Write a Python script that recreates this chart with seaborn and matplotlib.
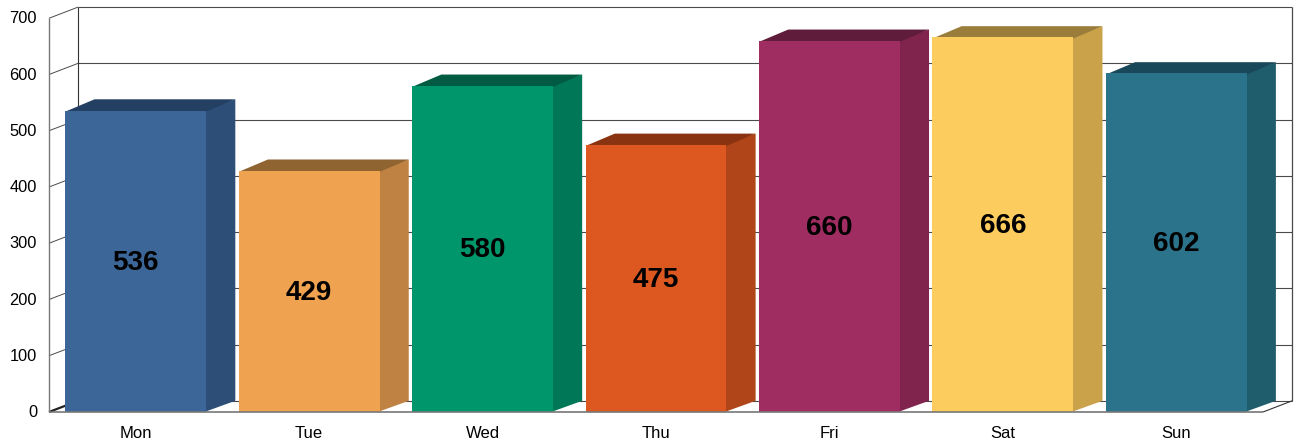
import matplotlib
matplotlib.use("Agg")
import matplotlib.pyplot as plt
import seaborn as sns
import pandas as pd
from matplotlib.patches import Polygon
from matplotlib.transforms import ScaledTranslation

days = ["Mon", "Tue", "Wed", "Thu", "Fri", "Sat", "Sun"]
values = [536, 429, 580, 475, 660, 666, 602]
front_colors = ["#3B6697", "#EFA351", "#00966C", "#DD5820", "#A02D61", "#FDCC5E", "#2A738A"]
side_colors = ["#2D4F77", "#BF8242", "#007857", "#AF4518", "#80244E", "#C9A24A", "#1F5C6C"]
top_colors = ["#234062", "#8F6431", "#005B42", "#8A3310", "#601C3B", "#9A7D3B", "#19485A"]
y_ticks = [0, 100, 200, 300, 400, 500, 600, 700]

W, H = 1296, 448
sns.set_theme(style="white")
plt.rcParams["font.family"] = ["Liberation Sans", "DejaVu Sans"]

fig = plt.figure(figsize=(W / 100, H / 100), dpi=100, facecolor="white")
# axes box in pixels: front-left of the floor to back-right of the wall
left, right, top, bottom = 49, 1293, 6, 412
ax = fig.add_axes([left / W, 1 - bottom / H, (right - left) / W, (bottom - top) / H])

px_per_cat = (1263 - 49) / 7
px_per_unit = 0.5625
dx = 29.2 / px_per_cat      # depth of the 3D effect, x
dy = 11.2 / px_per_unit     # depth of the 3D effect, y

df = pd.DataFrame({"day": days, "value": values})
sns.barplot(data=df, x="day", y="value", hue="day", palette=front_colors, order=days,
            hue_order=days, dodge=False, width=140.8 / px_per_cat, saturation=1,
            legend=False, linewidth=0, ax=ax, zorder=4)

x0, x1 = -0.5, 6.5
ax.set_xlim(x0, x1 + 30 / px_per_cat)
ax.set_ylim(0, (bottom - top) / px_per_unit)
for s in ax.spines.values():
    s.set_visible(False)

grid = "#4A4A4A"
kw = dict(clip_on=False, solid_capstyle="butt", zorder=1)
# back wall and side wall rules
for t in y_ticks:
    ax.plot([x0 + dx, x1 + dx], [t + dy, t + dy], color=grid, lw=0.8, **kw)
    ax.plot([x0, x0 + dx], [t, t + dy], color="#222222" if t == 0 else grid, lw=1.6 if t == 0 else 0.7, **kw)
ax.plot([x0 + dx, x0 + dx], [dy, 700 + dy], color="#333333", lw=0.8, **kw)
ax.plot([x1 + dx, x1 + dx], [dy, 700 + dy], color=grid, lw=0.9, **kw)
ax.plot([x1, x1 + dx], [0, dy], color="#333333", lw=0.8, **kw)
ax.plot([x0, x0], [0, 700], color="#777777", lw=1.0, **kw)
ax.plot([x0, x1], [0, 0], color="#777777", lw=1.2, clip_on=False, solid_capstyle="butt", zorder=6)

# 3D side and top faces derived from each bar drawn by seaborn
seam = 0.01
for bar, side, roof, val in zip(ax.patches, side_colors, top_colors, values):
    xa, xb, h = bar.get_x(), bar.get_x() + bar.get_width(), bar.get_height()
    ax.add_patch(Polygon([(xb - seam, 0), (xb + dx, dy), (xb + dx, h + dy), (xb - seam, h)],
                         facecolor=side, edgecolor="none", zorder=3, clip_on=False))
    ax.add_patch(Polygon([(xa, h - 2), (xa + dx, h + dy), (xb + dx, h + dy), (xb, h - 2)],
                         facecolor=roof, edgecolor="none", zorder=3, clip_on=False))
    ax.annotate(f"{val}", xy=((xa + xb) / 2, h / 2), xytext=(0, -1), textcoords="offset points",
                ha="center", va="center", fontsize=20, fontweight="bold", color="black", zorder=7)

ax.set_xlabel("")
ax.set_ylabel("")
ax.set_yticks(y_ticks)
ax.set_yticklabels([str(t) for t in y_ticks], fontsize=11.8, color="black")
ax.set_xticks(range(len(days)))
ax.set_xticklabels(days, fontsize=12, color="black")
ax.tick_params(axis="y", length=0, pad=8.6)
ax.tick_params(axis="x", length=0, pad=10.4)
up = ScaledTranslation(0, 1 / 100, fig.dpi_scale_trans)
for lab in ax.get_yticklabels():
    lab.set_transform(lab.get_transform() + up)

fig.savefig("out.png", dpi=100, facecolor="white")
